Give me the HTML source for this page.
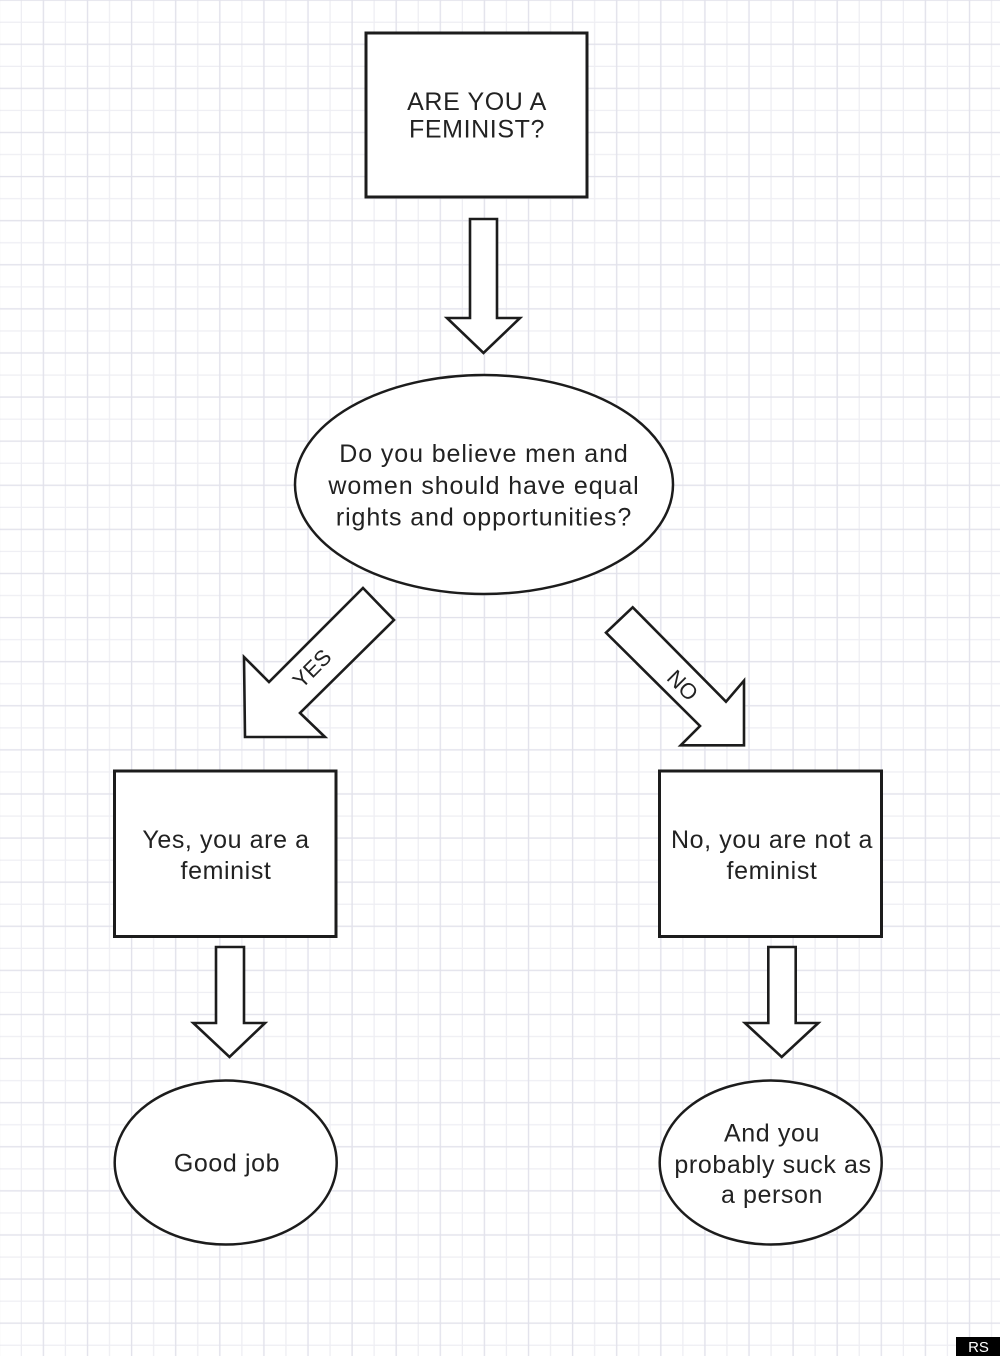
<!DOCTYPE html>
<html>
<head>
<meta charset="utf-8">
<style>
  html, body { margin: 0; padding: 0; background: #ffffff; }
  body { width: 1000px; height: 1356px; overflow: hidden; }
  svg { display: block; }
  .t { font-family: "Liberation Sans", Arial, sans-serif; font-size: 25px; fill: #222; letter-spacing: 0.6px; }
  .te { font-family: "Liberation Sans", Arial, sans-serif; font-size: 25px; fill: #222; letter-spacing: 0.9px; }
</style>
</head>
<body>
<svg width="1000" height="1356" viewBox="0 0 1000 1356" xmlns="http://www.w3.org/2000/svg">
  <defs>
    <pattern id="grid" patternUnits="userSpaceOnUse" x="32.4" y="33.3" width="44.1" height="44.1">
      <line x1="33.05" y1="0" x2="33.05" y2="44.1" stroke="#eeeef3" stroke-width="1.3"/>
      <line x1="0" y1="33.05" x2="44.1" y2="33.05" stroke="#eeeef3" stroke-width="1.3"/>
      <line x1="11" y1="0" x2="11" y2="44.1" stroke="#e2e2eb" stroke-width="1.4"/>
      <line x1="0" y1="11" x2="44.1" y2="11" stroke="#e2e2eb" stroke-width="1.4"/>
    </pattern>
  </defs>
  <rect x="0" y="0" width="1000" height="1356" fill="#ffffff"/>
  <rect x="0" y="0" width="1000" height="1356" fill="url(#grid)"/>

  <!-- Top box -->
  <rect x="366" y="33" width="221" height="164" fill="#fff" stroke="#1c1c1c" stroke-width="3"/>
  <text class="t" x="477" y="110" text-anchor="middle">ARE YOU A</text>
  <text class="t" x="477" y="137.5" text-anchor="middle">FEMINIST?</text>

  <!-- Down arrow 1 -->
  <polygon points="470,219 497,219 497,318 520,318 483.5,353 447,318 470,318" fill="#fff" stroke="#1c1c1c" stroke-width="2.6" stroke-linejoin="miter"/>

  <!-- Decision ellipse -->
  <ellipse cx="484" cy="484.5" rx="189" ry="109.5" fill="#fff" stroke="#1c1c1c" stroke-width="2.5"/>
  <text class="te" x="484" y="462" text-anchor="middle">Do you believe men and</text>
  <text class="te" x="484" y="494" text-anchor="middle">women should have equal</text>
  <text class="te" x="484" y="525.5" text-anchor="middle">rights and opportunities?</text>

  <!-- YES arrow -->
  <polygon points="363,588 394,620 300,713 325,737 245,737 244,657 269,682" fill="#fff" stroke="#1c1c1c" stroke-width="2.6"/>
  <text font-family="Liberation Sans, Arial, sans-serif" font-size="22" fill="#222" text-anchor="middle" transform="translate(311.7,668.3) rotate(-45)" y="8">YES</text>

  <!-- NO arrow -->
  <polygon points="632.7,607.3 726,701.7 744,680.7 744,745.3 680.7,745.3 700,726 606,632.7" fill="#fff" stroke="#1c1c1c" stroke-width="2.6"/>
  <text font-family="Liberation Sans, Arial, sans-serif" font-size="22" fill="#222" text-anchor="middle" transform="translate(683,685) rotate(45)" y="8">NO</text>

  <!-- Left box -->
  <rect x="114.5" y="771" width="221.5" height="165.5" fill="#fff" stroke="#1c1c1c" stroke-width="3"/>
  <text class="t" x="226" y="848" text-anchor="middle">Yes, you are a</text>
  <text class="t" x="226" y="879" text-anchor="middle">feminist</text>

  <!-- Right box -->
  <rect x="659.5" y="771" width="222" height="165.5" fill="#fff" stroke="#1c1c1c" stroke-width="3"/>
  <text class="t" x="772" y="848" text-anchor="middle">No, you are not a</text>
  <text class="t" x="772" y="879" text-anchor="middle">feminist</text>

  <!-- Left down arrow -->
  <polygon points="216,947 244,947 244,1023 265,1023 229.5,1057 193.3,1023 216,1023" fill="#fff" stroke="#1c1c1c" stroke-width="2.6"/>

  <!-- Right down arrow -->
  <polygon points="768.3,947 795.7,947 795.7,1023 818.3,1023 781.7,1057 745,1023 768.3,1023" fill="#fff" stroke="#1c1c1c" stroke-width="2.6"/>

  <!-- Left ellipse -->
  <ellipse cx="225.7" cy="1162.5" rx="111" ry="82" fill="#fff" stroke="#1c1c1c" stroke-width="2.5"/>
  <text class="t" x="227" y="1171.5" text-anchor="middle">Good job</text>

  <!-- Right ellipse -->
  <ellipse cx="770.7" cy="1162.5" rx="111" ry="82" fill="#fff" stroke="#1c1c1c" stroke-width="2.5"/>
  <text class="t" x="772" y="1141.5" text-anchor="middle">And you</text>
  <text class="t" x="773" y="1173" text-anchor="middle">probably suck as</text>
  <text class="t" x="772" y="1203" text-anchor="middle">a person</text>

  <!-- RS badge -->
  <rect x="956" y="1337" width="44" height="19" fill="#000"/>
  <text font-family="Liberation Sans, Arial, sans-serif" font-size="15" fill="#fff" text-anchor="middle" x="978.5" y="1352">RS</text>
</svg>
</body>
</html>
